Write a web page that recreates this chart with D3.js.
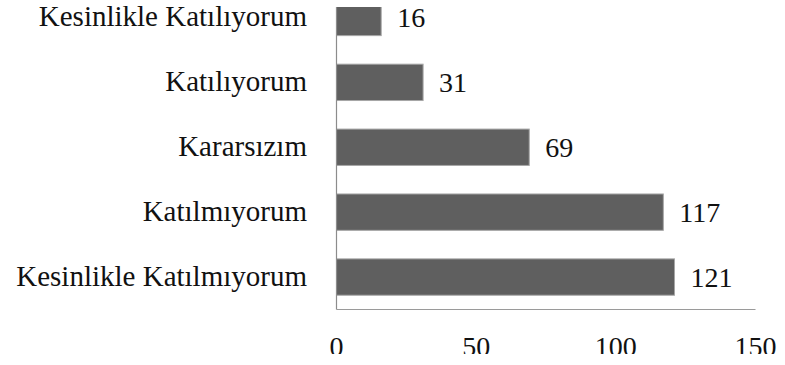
<!DOCTYPE html>
<html>
<head>
<meta charset="utf-8">
<script src="https://cdn.jsdelivr.net/npm/d3@7"></script>
<style>
  html, body { margin: 0; padding: 0; background: #fff; }
  svg { display: block; }
  svg text { font-family: "Liberation Serif", Tinos, "Times New Roman", serif; fill: #111; }
  .cat { font-size: 29px; }
  .val, .tick { font-size: 28px; }
</style>
</head>
<body>
<div id="chart"></div>
<script>
// Survey responses, listed top to bottom
const categories = [
  "Kesinlikle Katılıyorum",
  "Katılıyorum",
  "Kararsızım",
  "Katılmıyorum",
  "Kesinlikle Katılmıyorum"
];
const counts = [16, 31, 69, 117, 121];
const tickValues = [0, 50, 100, 150];

const W = 785, H = 365;
const plotTop = 7, plotBottom = 309.5;

const svg = d3.select("#chart").append("svg")
  .attr("width", W).attr("height", H);

const x = d3.scaleLinear().domain([0, 150]).range([336.5, 755.5]);
const y = d3.scaleBand().domain(categories)
  .range([-15, plotBottom])
  .paddingInner(0.44).paddingOuter(0.22);

const defs = svg.append("defs");
defs.append("clipPath").attr("id", "plotClip")
  .append("rect").attr("x", 0).attr("y", plotTop).attr("width", W).attr("height", H);
defs.append("clipPath").attr("id", "tickClip")
  .append("rect").attr("x", 0).attr("y", 0).attr("width", W).attr("height", 354);

const rows = categories.map((c, i) => ({ cat: c, v: counts[i] }));

// Bars
svg.append("g").attr("clip-path", "url(#plotClip)")
  .selectAll("rect").data(rows).join("rect")
  .attr("x", x(0))
  .attr("y", d => y(d.cat))
  .attr("width", d => x(d.v) - x(0))
  .attr("height", y.bandwidth())
  .attr("fill", "#5f5f5f")
  .attr("stroke", "#a6a6a6")
  .attr("stroke-width", 1);

// Axis lines
svg.append("line")
  .attr("x1", x(0)).attr("x2", x(0))
  .attr("y1", plotTop).attr("y2", plotBottom)
  .attr("stroke", "#8c8c8c").attr("stroke-width", 1.2);
svg.append("line")
  .attr("x1", x(0)).attr("x2", x(150))
  .attr("y1", plotBottom).attr("y2", plotBottom)
  .attr("stroke", "#9a9a9a").attr("stroke-width", 1.2);

// Category labels
svg.append("g").selectAll("text").data(rows).join("text")
  .attr("class", "cat")
  .attr("x", 307)
  .attr("y", d => y(d.cat) + y.bandwidth() / 2 + 8.5)
  .attr("text-anchor", "end")
  .text(d => d.cat);

// Value labels
svg.append("g").selectAll("text").data(rows).join("text")
  .attr("class", "val")
  .attr("x", d => x(d.v) + 16)
  .attr("y", d => y(d.cat) + y.bandwidth() / 2 + 10)
  .text(d => d.v);

// X tick labels
svg.append("g").attr("clip-path", "url(#tickClip)")
  .selectAll("text").data(tickValues).join("text")
  .attr("class", "tick")
  .attr("x", d => x(d))
  .attr("y", 356)
  .attr("text-anchor", "middle")
  .text(d => d);
</script>
</body>
</html>
